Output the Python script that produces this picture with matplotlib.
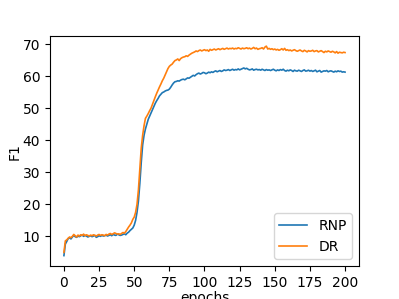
import matplotlib
matplotlib.use("Agg")
import matplotlib.pyplot as plt

epochs = list(range(201))
xticks = [0, 25, 50, 75, 100, 125, 150, 175, 200]

rnp = [
    4.0, 7.6, 8.4, 9.3, 9.6, 9.2, 9.8, 10.3, 9.9, 9.7,
    10.1, 9.9, 10.2, 10.4, 10.0, 10.3, 10.1, 9.8, 10.0, 10.2,
    9.9, 10.1, 10.3, 9.7, 9.9, 10.2, 10.0, 10.3, 10.1, 10.2,
    10.4, 10.1, 10.3, 10.5, 10.2, 10.6, 10.4, 10.3, 10.7, 10.5,
    10.3, 10.4, 10.6, 10.8, 10.5, 11.0, 11.3, 11.8, 12.2, 12.6,
    13.5, 15.0, 17.5, 21.0, 26.5, 33.0, 38.5, 41.5, 43.5, 45.0,
    46.5, 47.5, 48.5, 49.5, 50.5, 51.5, 52.3, 53.0, 53.8, 54.3,
    54.8, 55.0, 55.3, 55.5, 55.6, 55.9, 56.5, 57.2, 57.8, 58.2,
    58.3, 58.5, 58.4, 58.7, 58.9, 59.0, 58.8, 59.1, 59.4, 59.3,
    59.6, 59.9, 60.2, 60.0, 60.4, 60.7, 60.9, 60.6, 60.8, 61.1,
    61.0, 60.7, 60.9, 61.2, 61.0, 61.3, 61.1, 61.4, 61.6, 61.3,
    61.5, 61.7, 61.4, 61.6, 61.9, 61.7, 61.8, 62.0, 61.7, 61.9,
    62.1, 61.8, 62.0, 61.9, 62.2, 61.9, 62.1, 62.3, 62.5, 62.2,
    62.4, 62.1, 61.9, 62.0, 62.2, 61.8, 62.0, 62.1, 61.9, 62.0,
    61.8, 62.1, 61.9, 61.7, 62.0, 61.8, 61.9, 61.7, 61.9, 62.1,
    61.8, 61.6, 61.9, 61.7, 62.0, 61.8, 62.1, 61.7, 61.5, 61.8,
    61.6, 61.9, 61.7, 61.4, 61.8, 61.6, 61.5, 61.8, 61.6, 61.4,
    61.7, 61.9, 61.5, 61.6, 61.8, 61.5, 61.7, 61.4, 61.6, 61.8,
    61.3, 61.5, 61.7, 61.2, 61.4, 61.6, 61.5, 61.7, 61.3, 61.5,
    61.6, 61.4, 61.2, 61.5, 61.3, 61.6, 61.4, 61.5, 61.2, 61.3,
    61.2,
]

dr = [
    5.0, 8.6, 8.9, 9.4, 9.8, 9.6, 10.0, 10.6, 10.2, 9.8,
    10.4, 10.1, 10.5, 10.3, 10.7, 10.2, 10.5, 10.3, 10.1, 10.4,
    10.2, 10.5, 10.3, 10.1, 10.4, 10.6, 10.3, 10.5, 10.4, 10.2,
    10.6, 10.4, 10.7, 10.9, 10.6, 10.8, 11.1, 10.9, 10.7, 10.8,
    10.6, 10.9, 11.2, 11.0, 11.5, 12.2, 12.9, 13.5, 14.2, 15.3,
    16.0, 17.5, 20.0, 24.5, 31.0, 37.5, 41.5, 44.5, 46.8, 47.5,
    48.3, 49.2, 50.0, 51.2, 52.3, 53.5, 54.6, 55.6, 56.6, 57.5,
    58.5, 59.3, 60.3, 61.3, 62.3, 63.0, 63.4, 63.7, 64.3, 64.8,
    65.0, 65.3, 64.8, 65.4, 65.7, 65.9, 66.0, 66.3, 66.1, 66.5,
    66.8, 67.1, 67.3, 67.5, 67.8, 67.6, 67.9, 68.1, 67.8, 68.0,
    68.2, 67.9, 68.1, 67.7, 68.3, 68.0, 68.2, 68.4, 68.1, 68.3,
    68.5, 68.2, 68.4, 68.6, 68.3, 68.5, 68.7, 68.4, 68.6, 68.5,
    68.7, 68.4, 68.6, 68.5, 68.8, 68.6, 68.4, 68.7, 68.5, 68.6,
    68.8, 68.5, 68.7, 68.4, 68.6, 68.9, 68.5, 68.7, 68.3, 68.5,
    68.6, 68.8, 68.4, 69.0, 69.3, 68.4, 68.6, 68.3, 68.5, 68.2,
    68.4, 68.1, 68.3, 68.0, 68.2, 68.5, 68.1, 68.6, 68.0, 68.2,
    67.9, 68.1, 67.8, 68.0, 68.2, 67.9, 67.7, 67.9, 68.1, 67.8,
    67.6, 68.0, 67.8, 67.5, 67.9, 67.7, 67.8, 68.0, 67.6, 67.8,
    67.9, 67.5, 67.7, 67.9, 67.6, 67.3, 67.7, 67.5, 67.8, 67.6,
    67.4, 67.7, 67.5, 67.2, 67.6, 67.1, 67.4, 67.3, 67.2, 67.4,
    67.3,
]

fig, ax = plt.subplots(figsize=(4.0, 3.0), dpi=99.75)
ax.plot(epochs, rnp, color="#1f77b4", linewidth=1.2, label="RNP")
ax.plot(epochs, dr, color="#ff7f0e", linewidth=1.2, label="DR")
ax.set_xticks(xticks)
ax.set_xlabel("epochs", labelpad=0.5)
ax.set_ylabel("F1", labelpad=1)
ax.legend(loc="lower right")
fig.savefig("out.png", dpi=99.75)
